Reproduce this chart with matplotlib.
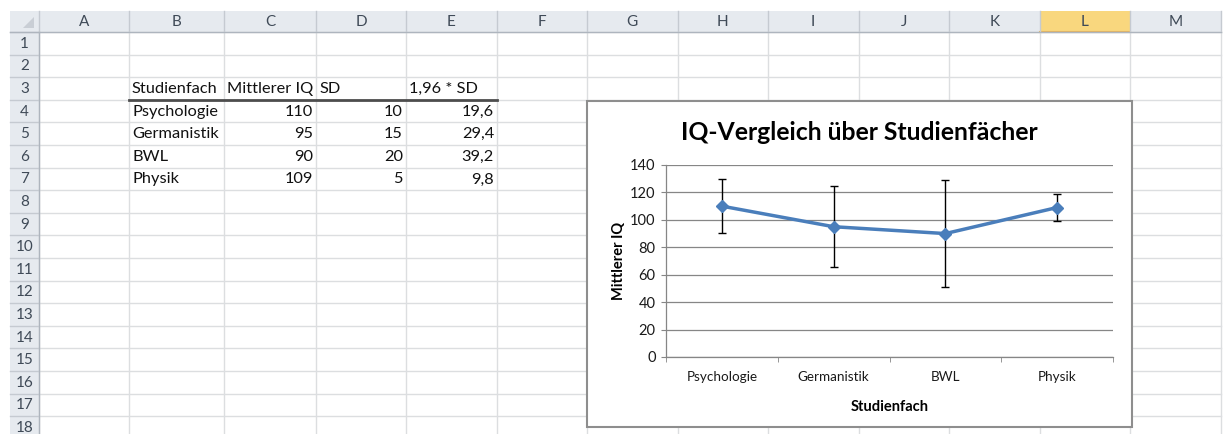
import numpy as np
import matplotlib
matplotlib.use("Agg")
import matplotlib.pyplot as plt
from matplotlib.patches import Rectangle, Polygon

plt.rcParams['font.family'] = ['Lato', 'DejaVu Sans']

# table / chart data
header = ["Studienfach", "Mittlerer IQ", "SD", "1,96 * SD"]
subjects = ["Psychologie", "Germanistik", "BWL", "Physik"]
mean_iq = [110, 95, 90, 109]
sd = [10, 15, 20, 5]
ci = [19.6, 29.4, 39.2, 9.8]

col_letters = ["A", "B", "C", "D", "E", "F", "G", "H", "I", "J", "K", "L", "M"]
col_edges = [39, 129, 224, 316, 406, 497, 587, 677.5, 768, 858.5, 949, 1040, 1130, 1221]
row_top = 32.0
row_h = 22.6
n_rows = 18

W, H = 1223, 434
fig = plt.figure(figsize=(W / 100, H / 100), dpi=100)
fig.patch.set_facecolor('white')

# sheet drawn in pixel coordinates
sh = fig.add_axes([0, 0, 1, 1])
sh.set_xlim(0, W)
sh.set_ylim(H, 0)
sh.axis('off')

hdr_face = '#E6EAEF'
hdr_line = '#C5CAD1'
grid_c = '#DCDEE0'
hdr_txt = '#3F4A57'
cell_fs = 11.8

# column header band
sh.add_patch(Rectangle((10, 11), col_edges[-1] - 10, row_top - 11, facecolor=hdr_face, edgecolor='none'))
# row header band
sh.add_patch(Rectangle((10, row_top), col_edges[0] - 10, H - row_top, facecolor=hdr_face, edgecolor='none'))
# selected column L
li = col_letters.index("L")
sh.add_patch(Rectangle((col_edges[li], 11), col_edges[li + 1] - col_edges[li], row_top - 11,
                       facecolor='#F9D77E', edgecolor='none'))
sh.plot([col_edges[li], col_edges[li + 1]], [row_top - 0.5, row_top - 0.5], color='#E9A93A', lw=1.5)
# corner triangle
sh.add_patch(Polygon([[34, 17], [34, 28], [23, 28]], closed=True, facecolor='#C9CED5', edgecolor='none'))

# grid lines
for i, x in enumerate(col_edges):
    sh.plot([x, x], [11, row_top], color=hdr_line, lw=1)
    sh.plot([x, x], [row_top, H], color=grid_c, lw=1)
for r in range(n_rows + 1):
    y = row_top + r * row_h
    sh.plot([10, col_edges[0]], [y, y], color=hdr_line, lw=1)
    sh.plot([col_edges[0], col_edges[-1]], [y, y], color=grid_c, lw=1)
sh.plot([10, col_edges[-1]], [row_top, row_top], color='#AEB5BE', lw=1)
sh.plot([col_edges[0], col_edges[0]], [row_top, H], color='#AEB5BE', lw=1)

# header labels
for i, c in enumerate(col_letters):
    sh.text((col_edges[i] + col_edges[i + 1]) / 2, 22, c, ha='center', va='center',
            fontsize=11, color=hdr_txt)
for r in range(n_rows):
    sh.text(24.5, row_top + (r + 0.5) * row_h + 0.5, str(r + 1), ha='center', va='center',
            fontsize=11, color=hdr_txt)

def row_y(n):
    return row_top + (n - 0.5) * row_h + 0.5

def fmt(v):
    return str(v).replace('.', ',')

# table
for j, t in enumerate(header):
    sh.text(col_edges[1 + j] + 3, row_y(3), t, ha='left', va='center', fontsize=cell_fs, color='#111111')
sh.plot([col_edges[1], col_edges[5]], [row_top + 3 * row_h, row_top + 3 * row_h], color='#4D4D4D', lw=2)
for i, s in enumerate(subjects):
    y = row_y(4 + i)
    sh.text(col_edges[1] + 3, y, s, ha='left', va='center', fontsize=cell_fs, color='#111111')
    sh.text(col_edges[3] - 3, y, fmt(mean_iq[i]), ha='right', va='center', fontsize=cell_fs, color='#111111')
    sh.text(col_edges[4] - 3, y, fmt(sd[i]), ha='right', va='center', fontsize=cell_fs, color='#111111')
    sh.text(col_edges[5] - 3, y, fmt(ci[i]), ha='right', va='center', fontsize=cell_fs, color='#111111')

# chart box
cb_l, cb_r, cb_t, cb_b = 587, 1132, 101, 427
sh.add_patch(Rectangle((cb_l, cb_t), cb_r - cb_l, cb_b - cb_t, facecolor='white',
                       edgecolor='#8E8E8E', lw=1.5, zorder=5))
sh.text((cb_l + cb_r) / 2, 132, "IQ-Vergleich über Studienfächer", ha='center', va='center',
        fontsize=17.8, fontweight='bold', color='black', zorder=6)

# plot area
pl, pr, pt, pb = 666, 1113, 165, 357
ax = fig.add_axes([pl / W, (H - pb) / H, (pr - pl) / W, (pb - pt) / H])
ax.set_facecolor('none')
x = np.arange(len(subjects))
ax.errorbar(x, mean_iq, yerr=ci, fmt='none', ecolor='black', elinewidth=1.0,
            capsize=3.2, capthick=1.0, zorder=3)
ax.plot(x, mean_iq, color='#4A7EBB', lw=2.5, marker='D', markersize=6.5, zorder=4)

ax.set_xlim(-0.5, len(subjects) - 0.5)
ax.set_ylim(0, 140)
ax.set_yticks(np.arange(0, 141, 20))
ax.set_xticks(x)
ax.set_xticklabels(subjects)
ax.set_xticks(np.arange(-0.5, len(subjects)), minor=True)
ax.tick_params(axis='x', which='major', length=0, pad=10, labelsize=9.7, labelcolor='#1a1a1a')
ax.tick_params(axis='x', which='minor', length=3.5, color='#868686', direction='out')
ax.tick_params(axis='y', length=3.5, color='#868686', direction='out', pad=4, labelsize=10.5,
               labelcolor='#1a1a1a')
ax.yaxis.grid(True, color='#868686', lw=0.9)
ax.set_axisbelow(True)
for s in ['top', 'right']:
    ax.spines[s].set_visible(False)
for s in ['left', 'bottom']:
    ax.spines[s].set_color('#868686')
    ax.spines[s].set_linewidth(0.9)

ax.set_ylabel("Mittlerer IQ", fontsize=10.5, fontweight='bold')
ax.yaxis.set_label_coords((626 - pl) / (pr - pl), 0.5)
ax.set_xlabel("Studienfach", fontsize=10.5, fontweight='bold')
ax.xaxis.set_label_coords(0.5, (pb - 400) / (pb - pt))

fig.savefig("out.png", dpi=100)
